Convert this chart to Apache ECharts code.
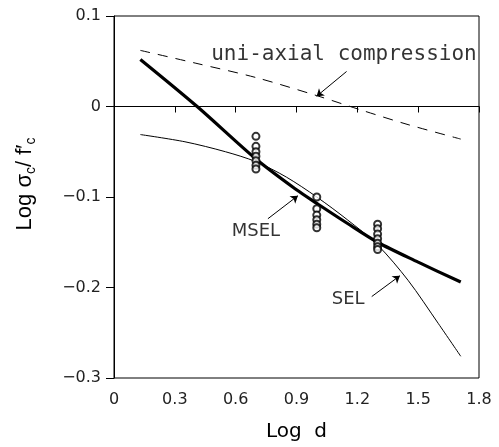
<!DOCTYPE html>
<html>
<head>
<meta charset="utf-8">
<script src="https://cdn.jsdelivr.net/npm/echarts@6/dist/echarts.min.js"></script>
<style>
  html, body { margin: 0; padding: 0; background: #fff; }
  #chart { width: 499px; height: 447px; }
</style>
</head>
<body>
<div id="chart"></div>
<script>
// x: Log d, y: Log(sigma_c / f'c)
var FONT = 'DejaVu Sans';

// uni-axial compression (dashed)
var uniX = [0.13, 0.4, 0.7, 1.0, 1.22, 1.45, 1.71];
var uniY = [0.062, 0.048, 0.032, 0.012, -0.004, -0.02, -0.036];

// MSEL (thick)
var mselX = [0.13, 0.41, 0.7, 0.9, 1.0, 1.15, 1.3, 1.5, 1.71];
var mselY = [0.052, 0.0, -0.058, -0.092, -0.107, -0.129, -0.150, -0.172, -0.194];

// SEL (thin)
var selX = [0.13, 0.35, 0.55, 0.7, 0.85, 1.0, 1.15, 1.3, 1.45, 1.6, 1.71];
var selY = [-0.031, -0.039, -0.050, -0.061, -0.078, -0.100, -0.125, -0.153, -0.192, -0.240, -0.276];

// test results
var testX = [0.7, 1.0, 1.3];
var testY = [
  [-0.033, -0.044, -0.050, -0.055, -0.060, -0.065, -0.069],
  [-0.100, -0.113, -0.120, -0.125, -0.130, -0.134],
  [-0.130, -0.135, -0.141, -0.146, -0.151, -0.155, -0.158]
];

// labels and arrows
var noteText = ['uni-axial compression', 'MSEL', 'SEL'];
var noteAt = [[1.134, 0.057], [0.70, -0.138], [1.155, -0.213]];
var noteFont = ['DejaVu Sans Mono', FONT, FONT];
var noteSize = [21, 18, 18];
var arrowFrom = [[1.147, 0.0387], [0.759, -0.124], [1.271, -0.210]];
var arrowTo = [[0.999, 0.0113], [0.907, -0.0986], [1.41, -0.187]];

function zip(xs, ys) {
  return xs.map(function (x, i) { return [x, ys[i]]; });
}

var testData = [];
testX.forEach(function (x, i) {
  testY[i].forEach(function (y) { testData.push([x, y]); });
});

var chart = echarts.init(document.getElementById('chart'));

chart.setOption({
  animation: false,
  grid: {
    left: 114, right: 20, top: 16, bottom: 67,
    show: true, borderColor: '#000', borderWidth: 1
  },
  xAxis: {
    type: 'value',
    min: 0, max: 1.8, interval: 0.3,
    name: 'Log  d',
    nameLocation: 'middle',
    nameGap: 44,
    nameTextStyle: { fontFamily: FONT, fontSize: 20, color: '#000' },
    axisLine: { lineStyle: { color: '#000', width: 1 } },
    axisTick: { length: 6, lineStyle: { color: '#000' } },
    axisLabel: { fontFamily: FONT, fontSize: 16, color: '#222', margin: 14 },
    splitLine: { show: false }
  },
  yAxis: {
    type: 'value',
    min: -0.3, max: 0.1, interval: 0.1,
    name: '{a|Log σ}{s|c}{a|/ f′}{s|c}',
    nameLocation: 'middle',
    nameGap: 76,
    nameTextStyle: {
      padding: [0, 0, 0, 26],
      rich: {
        a: { fontFamily: 'Liberation Sans', fontSize: 22, color: '#000', lineHeight: 26, verticalAlign: 'middle' },
        s: { fontFamily: 'Liberation Sans', fontSize: 14, color: '#000', lineHeight: 14, verticalAlign: 'bottom' }
      }
    },
    axisLine: { lineStyle: { color: '#000', width: 1 } },
    axisTick: { length: 8, lineStyle: { color: '#000' } },
    axisLabel: {
      fontFamily: FONT, fontSize: 16, color: '#222', margin: 13,
      formatter: function (v) {
        var s = Math.abs(v) < 1e-9 ? '0' : String(Math.round(v * 10) / 10);
        return s.replace('-', '\u2212');
      }
    },
    splitLine: { show: false }
  },
  series: [
    {
      type: 'line',
      data: zip(uniX, uniY),
      smooth: 0.3,
      showSymbol: false,
      lineStyle: { color: '#000', width: 1, type: [10, 8] },
      markLine: {
        silent: true,
        symbol: 'none',
        label: { show: false },
        lineStyle: { color: '#000', width: 1, type: 'solid' },
        data: [{ yAxis: 0 }]
      }
    },
    {
      type: 'line',
      data: zip(mselX, mselY),
      smooth: 0.3,
      showSymbol: false,
      lineStyle: { color: '#000', width: 3.2 }
    },
    {
      type: 'line',
      data: zip(selX, selY),
      smooth: 0.3,
      showSymbol: false,
      lineStyle: { color: '#000', width: 1 }
    },
    {
      type: 'scatter',
      data: testData,
      symbol: 'emptyCircle',
      symbolSize: 7,
      z: 5,
      itemStyle: { color: '#000', borderWidth: 1.2 }
    },
    {
      type: 'lines',
      coordinateSystem: 'cartesian2d',
      symbol: ['none', 'arrow'],
      symbolSize: 7,
      lineStyle: { color: '#000', width: 1, opacity: 1 },
      data: arrowFrom.map(function (p, i) { return { coords: [p, arrowTo[i]] }; })
    },
    {
      type: 'scatter',
      symbolSize: 0,
      silent: true,
      data: noteAt.map(function (p, i) {
        return {
          value: p,
          name: noteText[i],
          label: { fontFamily: noteFont[i], fontSize: noteSize[i] }
        };
      }),
      label: {
        show: true,
        position: 'inside',
        formatter: '{b}',
        color: '#000'
      }
    }
  ]
});
</script>
</body>
</html>
